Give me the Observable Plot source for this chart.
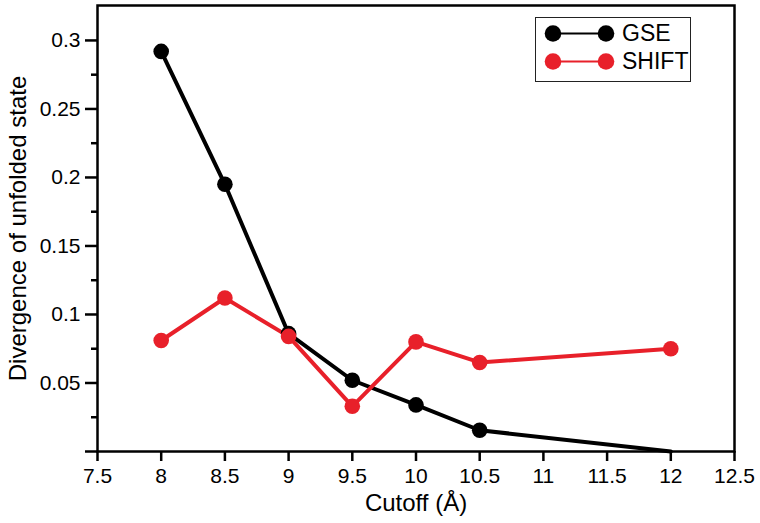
<!DOCTYPE html>
<html>
<head>
<meta charset="utf-8">
<script src="https://cdn.jsdelivr.net/npm/d3@7"></script>
<script src="https://cdn.jsdelivr.net/npm/@observablehq/plot@0.6"></script>
<style>
  html, body { margin: 0; padding: 0; background: #fff; }
  #wrap { position: relative; width: 760px; height: 523px; }
  #legend { position: absolute; left: 535px; top: 17px; border: 1.5px solid #222; background: #fff; line-height: 0; }
</style>
</head>
<body>
<div id="wrap"><div id="legend"></div></div>
<script>
const cutoffs = [8, 8.5, 9, 9.5, 10, 10.5, 12];
const gseValues = [0.292, 0.195, 0.086, 0.052, 0.034, 0.0155, 0];
const shiftValues = [0.081, 0.112, 0.084, 0.033, 0.080, 0.065, 0.075];
const seriesNames = ["GSE", "SHIFT"];
const seriesColors = ["#000000", "#e8202a"];
const xTicks = [7.5, 8, 8.5, 9, 9.5, 10, 10.5, 11, 11.5, 12, 12.5];
const yTicks = [0, 0.05, 0.1, 0.15, 0.2, 0.25, 0.3];
const yMinorTicks = [0.025, 0.075, 0.125, 0.175, 0.225, 0.275];
const xLabel = "Cutoff (Å)";
const yLabel = "Divergence of unfolded state";

const rows = [];
cutoffs.forEach((c, i) => {
  rows.push({series: "GSE", x: c, y: gseValues[i]});
});
cutoffs.forEach((c, i) => {
  rows.push({series: "SHIFT", x: c, y: shiftValues[i]});
});

const font = "'Liberation Sans', Arial, Helvetica, sans-serif";

const chart = Plot.plot({
  width: 760,
  height: 523,
  marginLeft: 97,
  marginRight: 26,
  marginTop: 5,
  marginBottom: 72,
  x: {domain: [7.5, 12.5]},
  y: {domain: [0, 0.3255]},
  color: {domain: seriesNames, range: seriesColors},
  style: {fontFamily: font, fontSize: "21px", color: "#000", background: "#fff", overflow: "visible"},
  marks: [
    Plot.line(rows, {x: "x", y: "y", z: "series", stroke: "series", strokeWidth: 4, strokeLinejoin: "round"}),
    Plot.dot(rows, {x: "x", y: "y", fill: "series", r: 7.8, filter: d => d.y > 0}),
    Plot.frame({stroke: "#000", strokeWidth: 2.5}),
    Plot.axisX({ticks: xTicks, tickSize: 10, tickPadding: 7, strokeWidth: 2.5, tickFormat: d => String(d), label: null, fontSize: 21}),
    Plot.axisY({ticks: yTicks, tickSize: 12, tickPadding: 5, strokeWidth: 2.5, tickFormat: d => d === 0 ? "" : String(d), label: null, fontSize: 21}),
    Plot.axisY({ticks: yMinorTicks, tickSize: 6, strokeWidth: 2.5, tickFormat: () => "", label: null}),
    Plot.text([xLabel], {frameAnchor: "bottom", dy: 52, text: d => d, fontSize: 24, textAnchor: "middle", lineAnchor: "middle"}),
    Plot.text([yLabel], {frameAnchor: "left", dx: -79, text: d => d, fontSize: 24, rotate: -90, textAnchor: "middle", lineAnchor: "middle"})
  ]
});
document.getElementById("wrap").prepend(chart);

const legend = Plot.plot({
  width: 154,
  height: 63,
  margin: 0,
  x: {domain: [0, 1], range: [16.5, 69.5], axis: null},
  y: {domain: seriesNames, range: [14.5, 42.5], type: "point", padding: 0, axis: null},
  color: {domain: seriesNames, range: seriesColors},
  style: {fontFamily: font, background: "#fff"},
  marks: [
    Plot.link(seriesNames, {x1: d => 0, x2: d => 1, y1: d => d, y2: d => d, stroke: d => d, strokeWidth: 2}),
    Plot.dot(seriesNames, {x: d => 0, y: d => d, fill: d => d, r: 8.3}),
    Plot.dot(seriesNames, {x: d => 1, y: d => d, fill: d => d, r: 8.3}),
    Plot.text(seriesNames, {x: d => 1, y: d => d, text: d => d, dx: 16, textAnchor: "start", fontSize: 23, fill: "#000"})
  ]
});
document.getElementById("legend").appendChild(legend);
</script>
</body>
</html>
